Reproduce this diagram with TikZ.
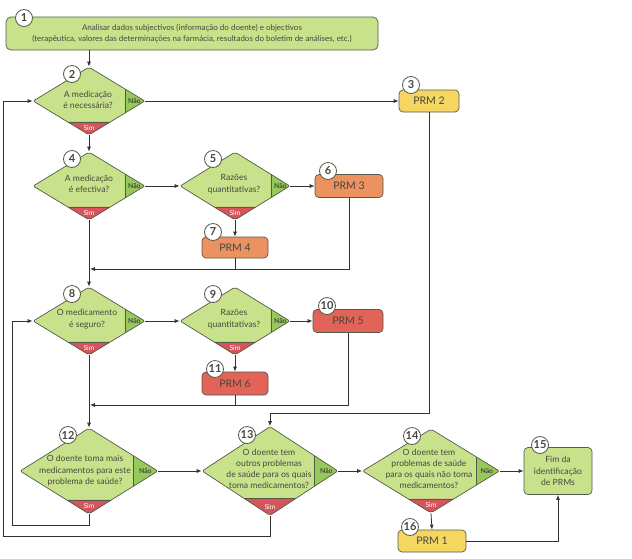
\documentclass[tikz,border=0pt]{standalone}
\usepackage{fontspec}
\setmainfont{Lato}
\usetikzlibrary{arrows.meta}
\usetikzlibrary{shapes.geometric}

\definecolor{lightgrn}{RGB}{200,226,140}
\definecolor{naogrn}{RGB}{150,200,90}
\definecolor{simred}{RGB}{215,85,90}
\definecolor{prmyel}{RGB}{244,214,96}
\definecolor{prmorg}{RGB}{236,146,96}
\definecolor{prmred}{RGB}{226,100,88}
\definecolor{edgecol}{RGB}{85,90,75}
\definecolor{txtcol}{RGB}{70,72,60}
\definecolor{linecol}{RGB}{50,50,50}

\tikzset{
  decision/.style 2 args={diamond, draw=edgecol, line width=0.7pt, fill=lightgrn,
    inner sep=0pt, rounded corners=2pt,
    path picture={
      \fill[naogrn] ([xshift=-#1]path picture bounding box.north east) rectangle (path picture bounding box.south east);
      \fill[simred] (path picture bounding box.south west) rectangle ([yshift=#2]path picture bounding box.south east);
      \draw[edgecol, line width=0.6pt] ([xshift=-#1]path picture bounding box.north east) -- ([xshift=-#1]path picture bounding box.south east);
      \draw[edgecol, line width=0.6pt] ([yshift=#2]path picture bounding box.south west) -- ([yshift=#2]path picture bounding box.south east);
    }},
  dtext/.style={align=center, text=txtcol, font=\fontsize{8.6}{11.5}\selectfont, inner sep=0pt},
  notext/.style={text=txtcol, font=\fontsize{6.8}{7}\selectfont\bfseries, inner sep=0pt},
  yestext/.style={text=white, font=\fontsize{6.8}{7}\selectfont, inner sep=0pt},
  prm/.style={draw=edgecol, line width=0.7pt, rounded corners=4pt, text=txtcol,
    minimum width=68pt, minimum height=23pt, inner sep=0pt, font=\fontsize{10.5}{11}\selectfont},
  stepnum/.style={circle, draw=edgecol, line width=0.8pt, fill=white, minimum size=17pt,
    inner sep=0pt, text=txtcol, font=\fontsize{11}{11}\selectfont\bfseries},
  conn/.style={draw=linecol, line width=0.8pt},
}

\begin{document}
\begin{tikzpicture}[x=1pt, y=-1pt, >={Latex[length=5pt,width=4pt]}]
    \useasboundingbox (0,0) rectangle (632,558);

    % Step 1: data collection box
    \node[draw=edgecol, line width=0.7pt, fill=lightgrn, rounded corners=5pt, minimum width=372pt,
      minimum height=33pt, align=center, text=txtcol, font=\fontsize{8}{11.5}\selectfont]
      (b1) at (192,33.5) {Analisar dados subjectivos (informação do doente) e objectivos\\
      (terapêutica, valores das determinações na farmácia, resultados do boletim de análises, etc.)};
    \node[stepnum] (n1) at (24,18) {1};

    % Decision diamonds, first column
    \node[decision={20pt}{13pt}, minimum width=112pt, minimum height=68pt] (d2) at (89,101) {};
    \node[dtext] (t2) at (88,100) {A medicação\\é necessária?};
    \node[decision={20pt}{13pt}, minimum width=112pt, minimum height=68pt] (d4) at (89,186) {};
    \node[dtext] (t4) at (89,184) {A medicação\\é efectiva?};
    \node[decision={20pt}{13pt}, minimum width=112pt, minimum height=68pt] (d8) at (89,321) {};
    \node[dtext] (t8) at (87,319) {O medicamento\\é seguro?};

    % Decision diamonds, second column
    \node[decision={19pt}{13pt}, minimum width=110pt, minimum height=68pt] (d5) at (235,186) {};
    \node[dtext] (t5) at (234,184) {Razões\\quantitativas?};
    \node[decision={19pt}{13pt}, minimum width=110pt, minimum height=68pt] (d9) at (235,321) {};
    \node[dtext] (t9) at (234,319) {Razões\\quantitativas?};

    % Bottom row of diamonds
    \node[decision={25pt}{14pt}, minimum width=138pt, minimum height=86pt] (d12) at (89,471) {};
    \node[dtext] (t12) at (85,471) {O doente toma mais\\medicamentos para este\\problema de saúde?};
    \node[decision={24pt}{17pt}, minimum width=136pt, minimum height=89pt] (d13) at (270,471) {};
    \node[dtext, font=\fontsize{8.6}{11}\selectfont] (t13) at (269,469) {O doente tem\\outros problemas\\de saúde para os quais\\toma medicamentos?};
    \node[decision={23pt}{14pt}, minimum width=137pt, minimum height=84pt] (d14) at (431,471) {};
    \node[dtext, font=\fontsize{8.6}{11}\selectfont] (t14) at (429,469) {O doente tem\\problemas de saúde\\para os quais não toma\\medicamentos?};

    % Nao / Sim labels
    \node[notext] (no2) at ([xshift=-11pt]d2.east) {Não};
    \node[yestext] (si2) at ([yshift=7pt]d2.south) {Sim};
    \node[notext] (no4) at ([xshift=-11pt]d4.east) {Não};
    \node[yestext] (si4) at ([yshift=7pt]d4.south) {Sim};
    \node[notext] (no5) at ([xshift=-10pt]d5.east) {Não};
    \node[yestext] (si5) at ([yshift=7pt]d5.south) {Sim};
    \node[notext] (no8) at ([xshift=-11pt]d8.east) {Não};
    \node[yestext] (si8) at ([yshift=7pt]d8.south) {Sim};
    \node[notext] (no9) at ([xshift=-10pt]d9.east) {Não};
    \node[yestext] (si9) at ([yshift=7pt]d9.south) {Sim};
    \node[notext] (no12) at ([xshift=-13pt]d12.east) {Não};
    \node[yestext] (si12) at ([yshift=8pt]d12.south) {Sim};
    \node[notext] (no13) at ([xshift=-12pt]d13.east) {Não};
    \node[yestext] (si13) at ([yshift=9pt]d13.south) {Sim};
    \node[notext] (no14) at ([xshift=-13pt]d14.east) {Não};
    \node[yestext] (si14) at ([yshift=8pt]d14.south) {Sim};

    % PRM boxes
    \node[prm, fill=prmyel, minimum width=60pt, minimum height=22pt] (p2) at (429,101) {PRM 2};
    \node[prm, fill=prmorg] (p3) at (349,186) {PRM 3};
    \node[prm, fill=prmorg, minimum width=66pt, minimum height=21pt] (p4) at (235,247.5) {PRM 4};
    \node[prm, fill=prmred, minimum width=70pt] (p5) at (348,321) {PRM 5};
    \node[prm, fill=prmred, minimum width=66pt] (p6) at (235,383.5) {PRM 6};
    \node[prm, fill=prmyel, minimum height=22pt] (p1) at (432,541) {PRM 1};

    % End box
    \node[draw=edgecol, line width=0.7pt, fill=lightgrn, rounded corners=4pt, minimum width=68pt,
      minimum height=47pt, align=center, text=txtcol, font=\fontsize{8.6}{11.5}\selectfont]
      (b15) at (558,471) {Fim da\\identificação\\de PRMs};

    % Step numbers
    \node[stepnum] (n2) at (72,74) {2};
    \node[stepnum] (n3) at (411,85) {3};
    \node[stepnum] (n4) at (72,159) {4};
    \node[stepnum] (n5) at (213,159) {5};
    \node[stepnum] (n6) at (328,171) {6};
    \node[stepnum] (n7) at (213,232) {7};
    \node[stepnum] (n8) at (72,294) {8};
    \node[stepnum] (n9) at (213,294) {9};
    \node[stepnum] (n10) at (327,306) {10};
    \node[stepnum] (n11) at (215,369) {11};
    \node[stepnum] (n12) at (68,435) {12};
    \node[stepnum] (n13) at (247,435) {13};
    \node[stepnum] (n14) at (412,436) {14};
    \node[stepnum] (n15) at (540,445) {15};
    \node[stepnum] (n16) at (410,527) {16};

    % Junction and corner points
    \coordinate (j1) at (90,269);
    \coordinate (j2) at (90,405);
    \coordinate (j3) at (429,413);
    \coordinate (c1) at (3,536);
    \coordinate (c2) at (12,525);

    % Connectors
    \draw[conn, ->] (b1.south -| d2.north) -- (d2.north);
    \draw[conn, ->] (d2.east) -- (p2.west);
    \draw[conn, ->] (d2.south) -- (d4.north);
    \draw[conn, ->] (d4.east) -- (d5.west);
    \draw[conn, ->] (d5.east) -- (p3.west);
    \draw[conn, ->] (d5.south) -- (p4.north);
    \draw[conn, ->] (d4.south) -- (d8.north);
    \draw[conn, ->] (p3.south) |- (j1);
    \draw[conn] (p4.south) -- (p4.south |- j1);
    \draw[conn, ->] (d8.east) -- (d9.west);
    \draw[conn, ->] (d9.east) -- (p5.west);
    \draw[conn, ->] (d9.south) -- (p6.north);
    \draw[conn, ->] (d8.south) -- (d12.north);
    \draw[conn, ->] (p5.south) |- (j2);
    \draw[conn] (p6.south) -- (p6.south |- j2);
    \draw[conn, ->] (p2.south) -- (j3) -| (d13.north);
    \draw[conn, ->] (d12.east) -- (d13.west);
    \draw[conn, ->] (d13.east) -- (d14.west);
    \draw[conn, ->] (d14.east) -- (b15.west);
    \draw[conn, ->] (d14.south) -- (p1.north);
    \draw[conn, ->] (p1.east) -| (b15.south);

    % Loops back
    \draw[conn, ->] (d13.south) |- (c1) |- (d2.west);
    \draw[conn, ->] (d12.south) |- (c2) |- (d8.west);
\end{tikzpicture}
\end{document}
